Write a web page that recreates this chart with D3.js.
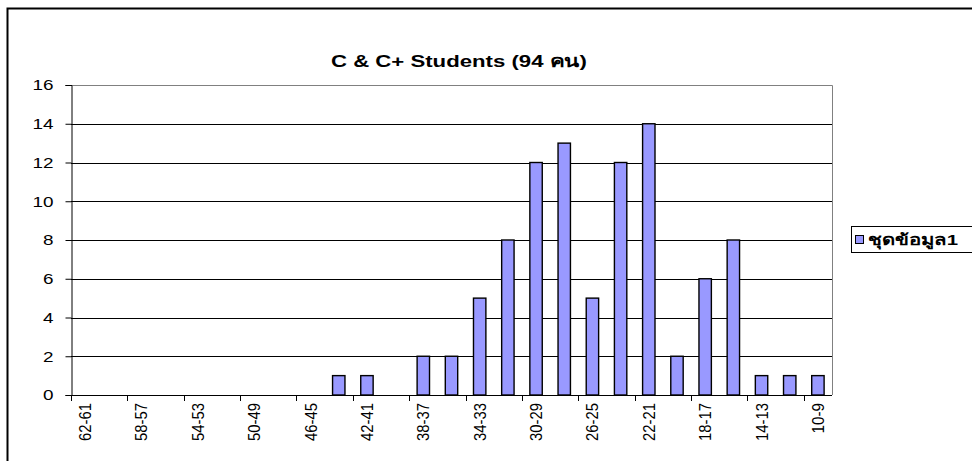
<!DOCTYPE html>
<html><head><meta charset="utf-8">
<script src="https://cdn.jsdelivr.net/npm/d3@7"></script>
<style>body{margin:0;background:#fff}svg{display:block;font-family:"Liberation Sans",Arial,sans-serif}</style>
</head><body><svg id="c" width="972" height="461"></svg>
<script>
const categories = ["62-61","60-59","58-57","56-55","54-53","52-51","50-49","48-47","46-45","44-43","42-41","40-39","38-37","36-35","34-33","32-31","30-29","28-27","26-25","24-23","22-21","20-19","18-17","16-15","14-13","12-11","10-9"];
const values = [0,0,0,0,0,0,0,0,0,1,1,0,2,2,5,8,12,13,5,12,14,2,6,8,1,1,1];
const yTicks = [0,2,4,6,8,10,12,14,16];
const seriesName = "ชุดข้อมูล1";
const title = "C & C+ Students (94 คน)";

const svg = d3.select("#c");
const L = 71, R = 832, T = 85, B = 395;
const x = d3.scaleBand().domain(categories).range([L, R]).paddingInner(0.56).paddingOuter(0.28);
const xb = d3.scaleBand().domain(categories).range([L, R]);
const y = d3.scaleLinear().domain([0, 16]).range([B, T]);

// chart area border
svg.append("path").attr("d", `M7.5,461 V8.5 H972`).attr("fill","none").attr("stroke","#000").attr("stroke-width",2);

// title
svg.append("text").attr("x", 331).attr("y", 67)
  .attr("font-weight","bold").attr("font-size", 17)
  .attr("textLength", 256).attr("lengthAdjust","spacingAndGlyphs").text(title);

// gridlines
svg.append("g").selectAll("line").data(yTicks.filter(d=>d>0 && d<16)).join("line")
  .attr("x1", L).attr("x2", R).attr("y1", d=>Math.round(y(d))+0.5).attr("y2", d=>Math.round(y(d))+0.5)
  .attr("stroke","#000").attr("stroke-width",1);

// plot area border (top & right gray)
svg.append("path").attr("d", `M${L},${T+0.5} H${R+0.5} V${B}`).attr("fill","none").attr("stroke","#808080").attr("stroke-width",1);

// bars
svg.append("g").selectAll("rect").data(categories).join("rect")
  .attr("x", (d)=>x(d)).attr("width", x.bandwidth())
  .attr("y", (d,i)=>y(values[i])).attr("height", (d,i)=>B - y(values[i]))
  .attr("fill","#9999FF").attr("stroke","#000").attr("stroke-width",1.4)
  .attr("display",(d,i)=>values[i]>0?null:"none");

// y axis
const yAxis = d3.axisLeft(y).tickValues(yTicks).tickSize(6).tickPadding(12).tickFormat(d3.format("d"));
const gy = svg.append("g").attr("transform", `translate(${L+0.5},0)`).call(yAxis);
gy.select(".domain").attr("stroke","#000");
gy.selectAll(".tick line").attr("stroke","#000");
gy.selectAll("text").attr("font-size",15).attr("font-family","Liberation Sans, Arial, sans-serif").attr("fill","#000")
  .attr("textLength", d => String(d).length * 10.5).attr("lengthAdjust","spacingAndGlyphs");

// x axis line
svg.append("line").attr("x1",L).attr("x2",R).attr("y1",B+0.5).attr("y2",B+0.5).attr("stroke","#000");
// x ticks at every second boundary
const bounds = d3.range(0, categories.length+1, 2).map(k => L + k*xb.step());
svg.append("g").selectAll("line").data(bounds).join("line")
  .attr("x1",d=>Math.round(d)+0.5).attr("x2",d=>Math.round(d)+0.5).attr("y1",B).attr("y2",B+6).attr("stroke","#000");
// x labels
svg.append("g").selectAll("text").data(categories.filter((d,i)=>i%2===0)).join("text")
  .attr("transform", d=>`translate(${xb(d)+xb.bandwidth()/2+6},${403}) rotate(-90)`)
  .attr("text-anchor","end").attr("font-size",16).attr("fill","#000")
  .attr("textLength", d => d.length*7.6).attr("lengthAdjust","spacingAndGlyphs").text(d=>d);

// legend
const lg = svg.append("g");
lg.append("rect").attr("x",851.5).attr("y",226.5).attr("width",130).attr("height",26).attr("fill","#fff").attr("stroke","#000");
lg.append("rect").attr("x",855.5).attr("y",235.5).attr("width",8).attr("height",8).attr("fill","#9999FF").attr("stroke","#000");
lg.append("text").attr("x",868).attr("y",245).attr("font-size",15).attr("font-weight","bold")
  .attr("textLength", 90).attr("lengthAdjust","spacingAndGlyphs").text(seriesName);
</script></body></html>
